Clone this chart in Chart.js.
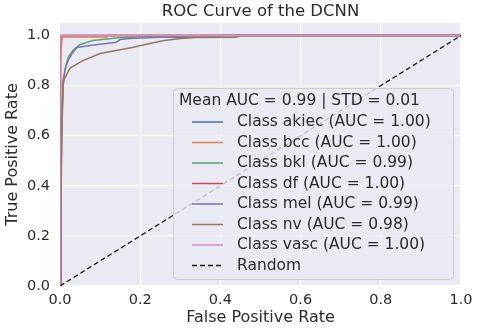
<!DOCTYPE html>
<html>
<head>
<meta charset="utf-8">
<script src="https://cdn.jsdelivr.net/npm/chart.js@4.4.0/dist/chart.umd.min.js"></script>
<style>
  html, body { margin: 0; padding: 0; background: #fff; }
  #wrap { width: 480px; height: 329px; }
</style>
</head>
<body>
<div id="wrap"><canvas id="roc" width="480" height="329"></canvas></div>
<script>
// class names and AUC values shown in the legend
const classNames = ['akiec', 'bcc', 'bkl', 'df', 'mel', 'nv', 'vasc'];
const aucValues = [1.00, 1.00, 0.99, 1.00, 0.99, 0.98, 1.00];
const meanAuc = 0.99;
const stdAuc = 0.01;

// roc points per class
const fprAkiec = [0, 0, 0.002, 0.004, 0.008, 1];
const tprAkiec = [0, 0.9, 0.96, 0.985, 1, 1];

const fprBcc = [0, 0.001, 0.002, 0.003, 0.005, 0.117, 0.117, 1];
const tprBcc = [0, 0.6, 0.9, 0.952, 0.994, 0.994, 1, 1];

const fprBkl = [0, 0.002, 0.004, 0.008, 0.013, 0.02, 0.032, 0.05, 0.082, 0.14, 0.2, 0.3, 0.42, 1];
const tprBkl = [0, 0.3, 0.6, 0.8, 0.87, 0.912, 0.94, 0.964, 0.98, 0.99, 0.995, 0.997, 1, 1];

const fprDf = [0, 0, 0.002, 1];
const tprDf = [0, 0.99, 1, 1];

const fprMel = [0, 0.002, 0.004, 0.0075, 0.012, 0.02, 0.03, 0.042, 0.075, 0.14, 0.15, 0.175, 0.25, 0.39, 0.4, 1];
const tprMel = [0, 0.3, 0.6, 0.82, 0.86, 0.9, 0.928, 0.952, 0.96, 0.973, 0.984, 0.988, 0.993, 0.993, 1, 1];

const fprNv = [0, 0.002, 0.004, 0.006, 0.0075, 0.012, 0.025, 0.057, 0.1, 0.14, 0.18, 0.224, 0.26, 0.3, 0.34, 0.44, 0.45, 1];
const tprNv = [0, 0.25, 0.55, 0.72, 0.81, 0.83, 0.87, 0.9, 0.928, 0.94, 0.952, 0.968, 0.98, 0.988, 0.992, 0.993, 1, 1];

const fprVasc = [0, 0, 1];
const tprVasc = [0, 1, 1];

const randomLine = [0, 1];

const tickValues = [0, 0.2, 0.4, 0.6, 0.8, 1.0];

// seaborn "deep" palette
const lineColors = ['#4C72B0', '#DD8452', '#55A868', '#C44E52', '#8172B3', '#937860', '#DA8BC3'];
const textColor = '#2b2b2b';
const fontFamily = '"DejaVu Sans", sans-serif';

const curves = [
  [fprAkiec, tprAkiec],
  [fprBcc, tprBcc],
  [fprBkl, tprBkl],
  [fprDf, tprDf],
  [fprMel, tprMel],
  [fprNv, tprNv],
  [fprVasc, tprVasc],
];

const toPoints = (xs, ys) => xs.map((x, i) => ({ x, y: ys[i] }));

const datasets = curves.map(([fpr, tpr], i) => ({
  label: `Class ${classNames[i]} (AUC = ${aucValues[i].toFixed(2)})`,
  data: toPoints(fpr, tpr),
  borderColor: lineColors[i],
  borderWidth: 1.5,
  pointRadius: 0,
  tension: 0,
  fill: false,
  order: 20 - i, // first class drawn first, like matplotlib
}));

datasets.push({
  label: 'Random',
  data: toPoints(randomLine, randomLine),
  borderColor: '#1a1a1a',
  borderWidth: 1.3,
  borderDash: [5, 3],
  pointRadius: 0,
  fill: false,
  order: 0,
});

const decor = {
  id: 'decor',
  beforeDraw(chart) {
    const { ctx, chartArea: a } = chart;
    ctx.save();
    ctx.fillStyle = '#EAEAF2';
    ctx.fillRect(a.left, a.top, a.right - a.left, a.bottom - a.top);
    ctx.restore();
  },
  afterDraw(chart) {
    const { ctx, chartArea: a } = chart;
    ctx.save();
    // title
    ctx.fillStyle = textColor;
    ctx.font = `16.5px ${fontFamily}`;
    ctx.textAlign = 'center';
    ctx.textBaseline = 'middle';
    ctx.fillText('ROC Curve of the DCNN', (a.left + a.right) / 2, 12);

    // legend box in the lower right corner
    const bx = 173, by = 88, bw = 280, bh = 191;
    ctx.beginPath();
    ctx.roundRect(bx + 0.5, by + 0.5, bw, bh, 4);
    ctx.fillStyle = 'rgba(234, 234, 242, 0.8)';
    ctx.fill();
    ctx.strokeStyle = '#CCCCCC';
    ctx.lineWidth = 1;
    ctx.stroke();

    ctx.fillStyle = textColor;
    ctx.textAlign = 'left';
    ctx.font = `15.5px ${fontFamily}`;
    ctx.fillText(`Mean AUC = ${meanAuc.toFixed(2)} | STD = ${stdAuc.toFixed(2)}`, bx + 6, by + 13);

    chart.data.datasets.forEach((ds, i) => {
      const y = by + 34 + i * 20.5;
      ctx.beginPath();
      ctx.strokeStyle = ds.borderColor;
      ctx.lineWidth = ds.borderWidth;
      ctx.setLineDash(ds.borderDash || []);
      ctx.moveTo(bx + 19, y);
      ctx.lineTo(bx + 50, y);
      ctx.stroke();
      ctx.setLineDash([]);
      ctx.fillStyle = textColor;
      ctx.fillText(ds.label, bx + 64, y);
    });
    ctx.restore();
  },
};

// eslint-disable-next-line no-new, no-undef
new Chart(document.getElementById('roc'), {
  type: 'line',
  data: { datasets },
  options: {
    responsive: false,
    animation: false,
    layout: { padding: { top: 23, right: 19, left: 0, bottom: 0 } },
    plugins: {
      legend: { display: false },
      title: { display: false },
      tooltip: { enabled: false },
    },
    scales: {
      x: {
        type: 'linear',
        min: 0,
        max: 1,
        afterFit(scale) { scale.height = 43; },
        afterBuildTicks(scale) { scale.ticks = tickValues.map((v) => ({ value: v })); },
        grid: { color: '#FFFFFF', lineWidth: 1.2, drawTicks: false },
        border: { display: false },
        ticks: {
          padding: 6,
          color: textColor,
          font: { family: fontFamily, size: 14.5 },
          maxRotation: 0,
          callback: (v) => v.toFixed(1),
        },
        title: {
          display: true,
          text: 'False Positive Rate',
          color: textColor,
          font: { family: fontFamily, size: 16 },
          padding: { top: 0, bottom: 2 },
        },
      },
      y: {
        type: 'linear',
        min: 0,
        max: 1.05,
        afterFit(scale) { scale.width = 60; },
        afterBuildTicks(scale) { scale.ticks = tickValues.map((v) => ({ value: v })); },
        grid: { color: '#FFFFFF', lineWidth: 1.2, drawTicks: false },
        border: { display: false },
        ticks: {
          padding: 10,
          color: textColor,
          font: { family: fontFamily, size: 14.5 },
          callback: (v) => v.toFixed(1),
        },
        title: {
          display: true,
          text: 'True Positive Rate',
          color: textColor,
          font: { family: fontFamily, size: 16 },
          padding: { top: 3, bottom: 0 },
        },
      },
    },
  },
  plugins: [decor],
});
</script>
</body>
</html>
